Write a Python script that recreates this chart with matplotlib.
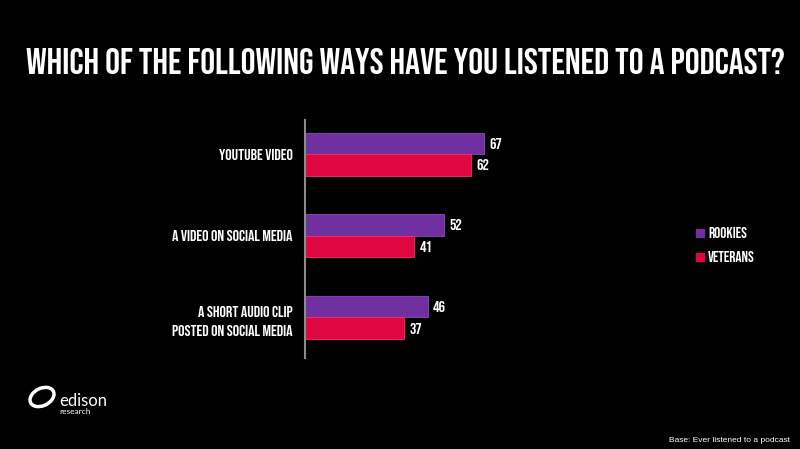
import matplotlib

matplotlib.use("Agg")
import matplotlib.pyplot as plt  # noqa: E402
from matplotlib.patches import Ellipse  # noqa: E402

TITLE = "WHICH OF THE FOLLOWING WAYS HAVE YOU LISTENED TO A PODCAST?"
CATEGORIES = ["YOUTUBE VIDEO", "A VIDEO ON SOCIAL MEDIA", "A SHORT AUDIO CLIP\nPOSTED ON SOCIAL MEDIA"]
ROOKIES = [67, 52, 46]
VETERANS = [62, 41, 37]
SERIES = ["ROOKIES", "VETERANS"]

PURPLE = "#7030a0"
RED = "#e0063f"
BEBAS = ["Bebas Neue", "DejaVu Sans"]

W, H = 800, 449
fig = plt.figure(figsize=(W / 100, H / 100), dpi=100, facecolor="black")

# title
fig.text(405 / W, 1 - 61 / H, TITLE, ha="center", va="center", color="white",
         fontsize=26.7, family=BEBAS)

# bar axes, placed in pixel coords
ax = fig.add_axes([305 / W, 91 / H, 267 / W, 238 / H])
ax.set_facecolor("black")
bh = 0.264
ys = range(len(CATEGORIES))
ax.barh([y - bh / 2 for y in ys], ROOKIES, height=bh, color=PURPLE, edgecolor="#8a4cc0", lw=0.6)
ax.barh([y + bh / 2 for y in ys], VETERANS, height=bh, color=RED, edgecolor="#f0306a", lw=0.6)
for y, r, v in zip(ys, ROOKIES, VETERANS):
    ax.text(r + 2, y - bh / 2, f"{r}", va="center", ha="left", color="white", fontsize=11.5, family=BEBAS)
    ax.text(v + 2, y + bh / 2, f"{v}", va="center", ha="left", color="white", fontsize=11.5, family=BEBAS)

ax.set_xlim(0, 100)
ax.set_ylim(2.5, -0.42)
ax.set_xticks([])
ax.set_yticks(list(ys))
ax.set_yticklabels(CATEGORIES, color="white", fontsize=11.5, family=BEBAS, linespacing=1.75)
ax.tick_params(axis="y", length=0, pad=9)
for s in ["top", "right", "bottom"]:
    ax.spines[s].set_visible(False)
ax.spines["left"].set_color("#8c8c8c")
ax.spines["left"].set_linewidth(1.5)

# legend
for i, (name, col) in enumerate(zip(SERIES, [PURPLE, RED])):
    yy = 1 - (233 + i * 24) / H
    fig.patches.append(plt.Rectangle((696 / W, yy - 4 / H), 8 / W, 8 / H, transform=fig.transFigure,
                                     color=col))
    fig.text(708 / W, yy, name, va="center", ha="left", color="white", fontsize=11, family=BEBAS)

# edison research logo (rough)
fig.patches.append(Ellipse((42 / W, 1 - 397 / H), 22 / W, 20 / H, angle=-20, transform=fig.transFigure,
                           fill=False, ec="white", lw=2.5))
fig.text(59 / W, 1 - 401 / H, "edison", va="center", ha="left", color="white", fontsize=12, family="Lato")
fig.text(59 / W, 1 - 411 / H, "research", va="center", ha="left", color="white", fontsize=6, family="Lato")

fig.text(790 / W, 1 - 441 / H, "Base: Ever listened to a podcast", ha="right", va="center",
         color="white", fontsize=6, family="Liberation Sans")

fig.savefig("out.png", dpi=100, facecolor="black")
